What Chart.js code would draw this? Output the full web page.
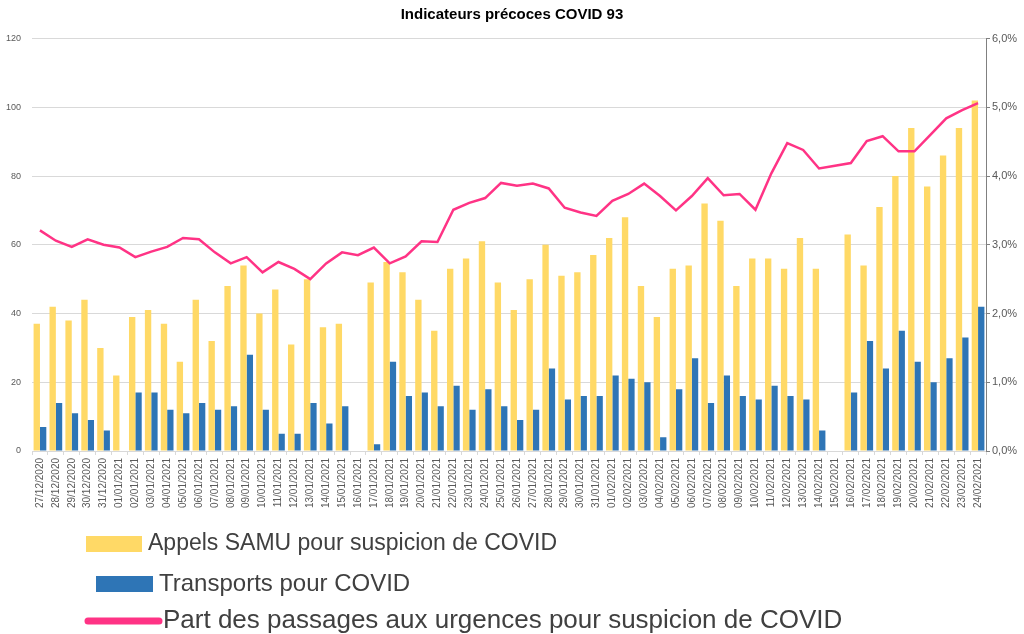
<!DOCTYPE html>
<html>
<head>
<meta charset="utf-8">
<script src="https://cdn.jsdelivr.net/npm/chart.js@4/dist/chart.umd.min.js"></script>
<style>
  html, body { margin: 0; padding: 0; background: #ffffff; }
  #wrap { width: 1024px; height: 634px; position: relative; }
</style>
</head>
<body>
<div id="wrap"><canvas id="c" width="1024" height="634"></canvas></div>
<script>
const chartTitle = "Indicateurs précoces COVID 93";

const dates = [
  "27/12/2020","28/12/2020","29/12/2020","30/12/2020","31/12/2020",
  "01/01/2021","02/01/2021","03/01/2021","04/01/2021","05/01/2021","06/01/2021","07/01/2021","08/01/2021","09/01/2021","10/01/2021",
  "11/01/2021","12/01/2021","13/01/2021","14/01/2021","15/01/2021","16/01/2021","17/01/2021","18/01/2021","19/01/2021","20/01/2021",
  "21/01/2021","22/01/2021","23/01/2021","24/01/2021","25/01/2021","26/01/2021","27/01/2021","28/01/2021","29/01/2021","30/01/2021","31/01/2021",
  "01/02/2021","02/02/2021","03/02/2021","04/02/2021","05/02/2021","06/02/2021","07/02/2021","08/02/2021","09/02/2021","10/02/2021",
  "11/02/2021","12/02/2021","13/02/2021","14/02/2021","15/02/2021","16/02/2021","17/02/2021","18/02/2021","19/02/2021","20/02/2021",
  "21/02/2021","22/02/2021","23/02/2021","24/02/2021"
];

const seriesNames = [
  "Appels SAMU pour suspicion de COVID",
  "Transports pour COVID",
  "Part des passages aux urgences pour suspicion de COVID"
];

const appelsSamu = [
  37, 42, 38, 44, 30,
  22, 39, 41, 37, 26, 44, 32, 48, 54, 40,
  47, 31, 50, 36, 37, null, 49, 55, 52, 44,
  35, 53, 56, 61, 49, 41, 50, 60, 51, 52, 57,
  62, 68, 48, 39, 53, 54, 72, 67, 48, 56,
  56, 53, 62, 53, null, 63, 54, 71, 80, 94,
  77, 86, 94, 102
];

const transports = [
  7, 14, 11, 9, 6,
  0, 17, 17, 12, 11, 14, 12, 13, 28, 12,
  5, 5, 14, 8, 13, null, 2, 26, 16, 17,
  13, 19, 12, 18, 13, 9, 12, 24, 15, 16, 16,
  22, 21, 20, 4, 18, 27, 14, 22, 16, 15,
  19, 16, 15, 6, null, 17, 32, 24, 35, 26,
  20, 27, 33, 42
];

const partUrgences = [
  3.21, 3.06, 2.97, 3.08, 3.00,
  2.96, 2.82, 2.90, 2.97, 3.10, 3.08, 2.89, 2.73, 2.82, 2.60,
  2.75, 2.65, 2.50, 2.73, 2.89, 2.85, 2.96, 2.73, 2.83, 3.05,
  3.04, 3.51, 3.61, 3.68, 3.90, 3.86, 3.89, 3.82, 3.54, 3.47, 3.42,
  3.64, 3.74, 3.89, 3.71, 3.50, 3.71, 3.97, 3.72, 3.74, 3.51,
  4.04, 4.48, 4.38, 4.11, 4.15, 4.19, 4.51, 4.58, 4.36, 4.36,
  4.60, 4.84, 4.96, 5.06
];

const leftTicks = [0, 20, 40, 60, 80, 100, 120];
const rightTicks = [0, 1, 2, 3, 4, 5, 6];

const FONT = "'Liberation Sans', Arial, sans-serif";
const YELLOW = "#FFD966";
const BLUE = "#2E75B6";
const PINK = "#FF3385";

const legendPlugin = {
  id: "bigLegend",
  afterDraw(chart) {
    const ctx = chart.ctx;
    const ds = chart.data.datasets;
    const items = [
      { d: ds[1], kind: "box", x0: 86, x1: 142, y: 544, tx: 148, size: 23 },
      { d: ds[2], kind: "box", x0: 96, x1: 153, y: 584, tx: 159, size: 24 },
      { d: ds[0], kind: "line", x0: 88, x1: 159, y: 621, tx: 163, size: 26 }
    ];
    ctx.save();
    ctx.textBaseline = "middle";
    ctx.textAlign = "left";
    items.forEach(it => {
      if (it.kind === "box") {
        ctx.fillStyle = it.d.backgroundColor;
        ctx.fillRect(it.x0, it.y - 8, it.x1 - it.x0, 16);
      } else {
        ctx.strokeStyle = it.d.borderColor;
        ctx.lineWidth = 7;
        ctx.lineCap = "round";
        ctx.beginPath();
        ctx.moveTo(it.x0, it.y);
        ctx.lineTo(it.x1, it.y);
        ctx.stroke();
      }
      ctx.font = it.size + "px " + FONT;
      ctx.fillStyle = "#404040";
      ctx.fillText(it.d.label, it.tx, it.y);
    });
    ctx.restore();
  }
};

new Chart(document.getElementById("c"), {
  type: "bar",
  data: {
    labels: dates,
    datasets: [
      {
        type: "line",
        label: seriesNames[2],
        data: partUrgences,
        yAxisID: "y1",
        borderColor: PINK,
        backgroundColor: PINK,
        borderWidth: 2.5,
        pointRadius: 0,
        tension: 0,
        order: 0
      },
      {
        label: seriesNames[0],
        data: appelsSamu,
        yAxisID: "y",
        backgroundColor: YELLOW,
        categoryPercentage: 0.8,
        barPercentage: 1.0,
        order: 1
      },
      {
        label: seriesNames[1],
        data: transports,
        yAxisID: "y",
        backgroundColor: BLUE,
        categoryPercentage: 0.8,
        barPercentage: 1.0,
        order: 1
      }
    ]
  },
  options: {
    responsive: false,
    animation: false,
    layout: { padding: 0 },
    plugins: {
      legend: { display: false },
      tooltip: { enabled: false },
      title: {
        display: true,
        text: chartTitle,
        color: "#000000",
        font: { family: FONT, size: 15, weight: "bold", lineHeight: 1.2 },
        padding: { top: 6, bottom: 14.6 }
      }
    },
    scales: {
      x: {
        offset: true,
        grid: {
          display: true,
          drawOnChartArea: false,
          drawTicks: true,
          tickLength: 4,
          color: "#D9D9D9",
          offset: true
        },
        border: { display: true, color: "#D9D9D9" },
        ticks: {
          autoSkip: false,
          maxRotation: 90,
          minRotation: 90,
          padding: 3,
          color: "#595959",
          font: { family: FONT, size: 10 }
        },
        afterFit(scale) { scale.height = 183; }
      },
      y: {
        position: "left",
        min: leftTicks[0],
        max: leftTicks[leftTicks.length - 1],
        afterBuildTicks(scale) { scale.ticks = leftTicks.map(v => ({ value: v })); },
        grid: { color: "#D9D9D9", drawTicks: false, lineWidth: 1 },
        border: { display: false },
        ticks: {
          padding: 11,
          color: "#595959",
          font: { family: FONT, size: 9 }
        },
        afterFit(scale) { scale.width = 32; }
      },
      y1: {
        position: "right",
        min: rightTicks[0],
        max: rightTicks[rightTicks.length - 1],
        afterBuildTicks(scale) { scale.ticks = rightTicks.map(v => ({ value: v })); },
        grid: {
          display: true,
          drawOnChartArea: false,
          drawTicks: true,
          tickLength: 4,
          color: "#808080"
        },
        border: { display: true, color: "#808080" },
        ticks: {
          padding: 2,
          color: "#595959",
          font: { family: FONT, size: 11 },
          callback: v => v.toFixed(1).replace(".", ",") + "%"
        },
        afterFit(scale) { scale.width = 38; }
      }
    }
  },
  plugins: [legendPlugin]
});
</script>
</body>
</html>
